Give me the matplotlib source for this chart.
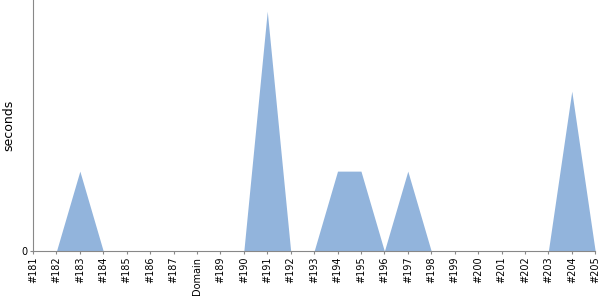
import matplotlib
matplotlib.use("Agg")
import matplotlib.pyplot as plt

# build labels and durations
labels = ["#181", "#182", "#183", "#184", "#185", "#186", "#187", "Domain",
          "#189", "#190", "#191", "#192", "#193", "#194", "#195", "#196",
          "#197", "#198", "#199", "#200", "#201", "#202", "#203", "#204", "#205"]
seconds = [0, 0, 1, 0, 0, 0, 0, 0, 0, 0, 3, 0, 0, 1, 1, 0, 1, 0, 0, 0, 0, 0, 0, 2, 0]

fig = plt.figure(figsize=(6, 3), dpi=100)
ax = fig.add_axes([0.055, 0.163, 0.937, 0.837])
x = list(range(len(labels)))
ax.fill_between(x, seconds, 0, color="#92b4dc", linewidth=0)

ax.set_xlim(0, len(labels) - 1)
ax.set_ylim(0, 3.14)
ax.set_xticks(x)
ax.set_xticklabels(labels, rotation=90, fontsize=7)
ax.set_yticks([0])
ax.set_yticklabels(["0"], fontsize=7)
ax.set_ylabel("seconds", fontsize=9)
for s in ["top", "right"]:
    ax.spines[s].set_visible(False)
for s in ["left", "bottom"]:
    ax.spines[s].set_color("#888888")
ax.tick_params(length=2, color="#888888", pad=2)

fig.savefig("out.png")
